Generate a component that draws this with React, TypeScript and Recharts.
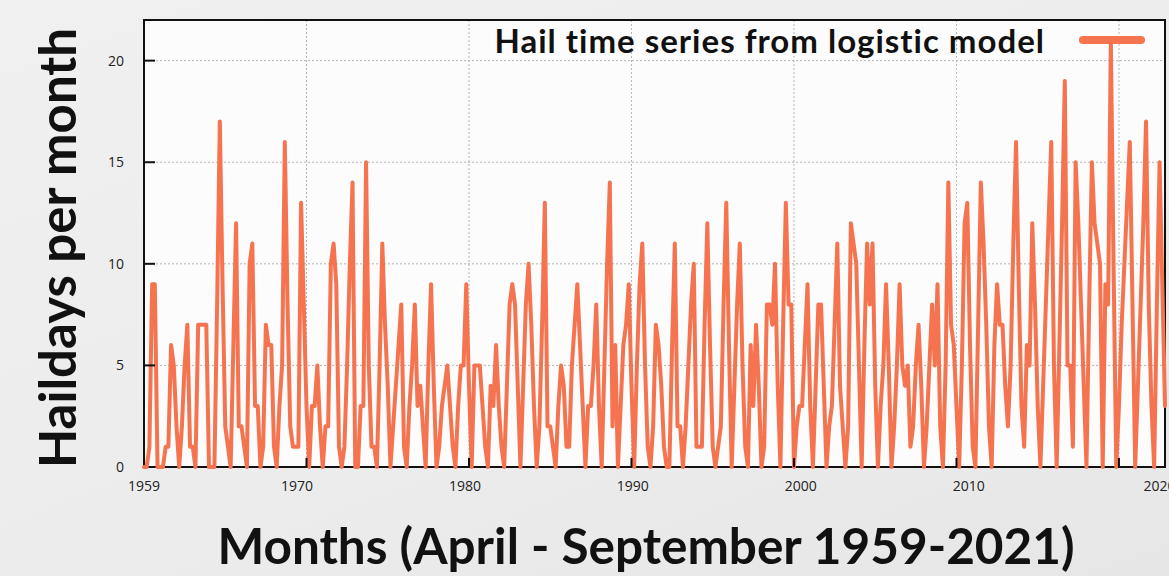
import React from 'react';
import { LineChart, Line, XAxis, YAxis, CartesianGrid, ReferenceArea } from 'recharts';

// Hail days per month, April-September 1959-2021 (one value per month, in order)
const haildays = [
  0, 0, 1, 9, 9, 0,
  0, 0, 1, 1, 6, 5,
  2, 0, 2, 5, 7, 1,
  1, 0, 7, 7, 7, 7,
  0, 0, 0, 8, 17, 9,
  2, 1, 0, 6, 12, 2,
  2, 1, 0, 10, 11, 3,
  3, 0, 1, 7, 6, 6,
  1, 0, 3, 5, 16, 8,
  2, 1, 1, 1, 13, 8,
  3, 0, 3, 3, 5, 2,
  0, 2, 2, 10, 11, 9,
  1, 0, 1, 5, 10, 14,
  0, 0, 3, 3, 15, 5,
  1, 1, 0, 5, 11, 7,
  4, 0, 2, 4, 6, 8,
  1, 0, 3, 5, 8, 3,
  4, 2, 0, 5, 9, 4,
  0, 1, 3, 4, 5, 3,
  1, 0, 3, 5, 5, 9,
  4, 0, 5, 5, 5, 3,
  1, 0, 4, 3, 6, 3,
  1, 0, 4, 8, 9, 8,
  4, 0, 4, 8, 10, 7,
  3, 0, 2, 7, 13, 2,
  2, 1, 0, 3, 5, 4,
  1, 1, 5, 7, 9, 6,
  3, 0, 3, 3, 5, 8,
  3, 0, 5, 10, 14, 2,
  6, 0, 3, 6, 7, 9,
  4, 0, 5, 9, 11, 5,
  1, 0, 2, 7, 6, 4,
  1, 0, 0, 6, 11, 2,
  2, 0, 2, 5, 8, 10,
  1, 1, 1, 7, 12, 6,
  1, 0, 1, 2, 8, 13,
  6, 0, 4, 8, 11, 5,
  1, 0, 6, 3, 7, 4,
  0, 1, 8, 8, 7, 10,
  4, 0, 7, 13, 8, 8,
  0, 2, 3, 3, 6, 9,
  3, 0, 4, 8, 8, 4,
  0, 2, 3, 7, 11, 4,
  2, 0, 2, 12, 11, 10,
  5, 0, 6, 11, 8, 11,
  4, 0, 3, 5, 9, 5,
  0, 2, 5, 9, 5, 4,
  5, 1, 2, 5, 7, 4,
  0, 2, 5, 8, 5, 9,
  2, 0, 5, 14, 7, 6,
  3, 0, 5, 12, 13, 6,
  1, 0, 7, 14, 11, 7,
  2, 0, 6, 9, 7, 7,
  4, 2, 5, 11, 16, 9,
  3, 1, 6, 5, 12, 8,
  3, 0, 4, 8, 12, 16,
  5, 0, 6, 12, 19, 5,
  5, 1, 15, 12, 8, 4,
  0, 8, 15, 12, 11, 10,
  0, 9, 8, 21, 10, 0,
  3, 7, 10, 13, 16, 8,
  0, 4, 8, 12, 17, 8,
  3, 0, 8, 15, 9, 3,
];

// grid / tick positions along the month index axis
const gridTicks = [60, 120, 180, 240, 300, 360];
// year labels and the month-index positions where they are printed
const yearLabelTicks = [0, 56.5, 118.5, 180.5, 242.5, 304.5, 375];
const yearLabels = ['1959', '1970', '1980', '1990', '2000', '2010', '2020'];
const yTicks = [0, 5, 10, 15, 20];
const yMax = 22;

const seriesName = 'Hail time series from logistic model';
const xTitle = 'Months (April - September 1959-2021)';
const yTitle = 'Haildays per month';

const LINE_COLOR = '#f5744f';
const TICK_FONT = '"Open Sans", "DejaVu Sans", sans-serif';
const TITLE_FONT = 'Lato, "Open Sans", sans-serif';

const data = haildays.map((v, i) => ({ month: i, hail: v }));

const LeftTick = (props: any) => {
  const { x, y, payload } = props;
  const v = payload.value;
  return (
    <g>
      <text x={x} y={y} dy={5} textAnchor="end" fontSize={14} fill="#222" fontFamily={TICK_FONT}>
        {v}
      </text>
      {v > 0 && v < yMax ? (
        <line x1={x + 20} x2={x + 31} y1={y} y2={y} stroke="#111" strokeWidth={2} />
      ) : null}
    </g>
  );
};

const RightTick = (props: any) => {
  const { x, y, payload } = props;
  const v = payload.value;
  if (!(v > 0 && v < yMax)) return <g />;
  return <line x1={x - 11} x2={x} y1={y} y2={y} stroke="#111" strokeWidth={2} />;
};

const BottomTick = (props: any) => {
  const { x, y } = props;
  return <line x1={x} x2={x} y1={y} y2={y - 9} stroke="#111" strokeWidth={2} />;
};

export default function App() {
  return (
    <div
      style={{
        position: 'absolute',
        left: 0,
        top: 0,
        width: 1169,
        height: 576,
        overflow: 'hidden',
        background: 'linear-gradient(160deg, #f0f0f0 0%, #ececec 60%, #e6e6e6 100%)',
      }}
    >
      <LineChart
        width={1169}
        height={576}
        data={data}
        margin={{ top: 20, right: 3, bottom: 78, left: 104 }}
      >
        <CartesianGrid
          xAxisId="grid"
          yAxisId="left"
          stroke="#b4b4b4"
          strokeDasharray="2 2"
          fill="#fcfcfc"
          fillOpacity={1}
        />
        <XAxis
          xAxisId="grid"
          dataKey="month"
          type="number"
          domain={[0, haildays.length - 1]}
          ticks={gridTicks}
          height={1}
          axisLine={false}
          tickLine={false}
          tickSize={0}
          tickMargin={0}
          tick={<BottomTick />}
          interval={0}
        />
        <XAxis
          xAxisId="lab"
          dataKey="month"
          type="number"
          domain={[0, haildays.length - 1]}
          ticks={yearLabelTicks}
          height={30}
          axisLine={false}
          tickLine={false}
          tickSize={0}
          tickMargin={13}
          interval={0}
          allowDataOverflow
          tickFormatter={(v: number) => yearLabels[yearLabelTicks.indexOf(v)] ?? ''}
          tick={{ fontSize: 14, fill: '#222', fontFamily: TICK_FONT }}
        />
        <YAxis
          yAxisId="left"
          type="number"
          domain={[0, yMax]}
          ticks={yTicks}
          width={40}
          axisLine={false}
          tickLine={false}
          tickSize={0}
          tickMargin={20}
          interval={0}
          tick={<LeftTick />}
        />
        <YAxis
          yAxisId="right"
          orientation="right"
          type="number"
          domain={[0, yMax]}
          ticks={yTicks}
          width={1}
          axisLine={false}
          tickLine={false}
          tickSize={0}
          tickMargin={0}
          interval={0}
          tick={<RightTick />}
        />
        <Line
          xAxisId="grid"
          yAxisId="left"
          type="linear"
          dataKey="hail"
          name={seriesName}
          stroke={LINE_COLOR}
          strokeWidth={4}
          strokeLinejoin="round"
          strokeLinecap="round"
          dot={false}
          activeDot={false}
          isAnimationActive={false}
        />
        <ReferenceArea
          xAxisId="grid"
          yAxisId="left"
          x1={0}
          x2={haildays.length - 1}
          y1={0}
          y2={yMax}
          fill="none"
          fillOpacity={0}
          stroke="#111"
          strokeWidth={2}
          ifOverflow="visible"
        />
      </LineChart>

      {/* legend */}
      <div
        style={{
          position: 'absolute',
          top: 20,
          right: 24,
          display: 'flex',
          alignItems: 'center',
          fontFamily: TITLE_FONT,
          fontWeight: 700,
          fontSize: 33,
          letterSpacing: 1,
          color: '#111',
          lineHeight: '40px',
        }}
      >
        <span>{seriesName}</span>
        <span
          style={{
            display: 'inline-block',
            width: 66,
            height: 8,
            borderRadius: 4,
            background: LINE_COLOR,
            marginLeft: 34,
          }}
        />
      </div>

      {/* x title */}
      <div
        style={{
          position: 'absolute',
          left: 0,
          width: 1292,
          top: 515,
          textAlign: 'center',
          fontFamily: TITLE_FONT,
          fontWeight: 700,
          fontSize: 49.5,
          lineHeight: '60px',
          color: '#111',
          whiteSpace: 'nowrap',
        }}
      >
        {xTitle}
      </div>

      {/* y title */}
      <div
        style={{
          position: 'absolute',
          left: 57 - 300,
          top: 248 - 30,
          width: 600,
          height: 60,
          textAlign: 'center',
          transform: 'rotate(-90deg)',
          fontFamily: TITLE_FONT,
          fontWeight: 700,
          fontSize: 51,
          lineHeight: '60px',
          color: '#111',
          whiteSpace: 'nowrap',
        }}
      >
        {yTitle}
      </div>
    </div>
  );
}
